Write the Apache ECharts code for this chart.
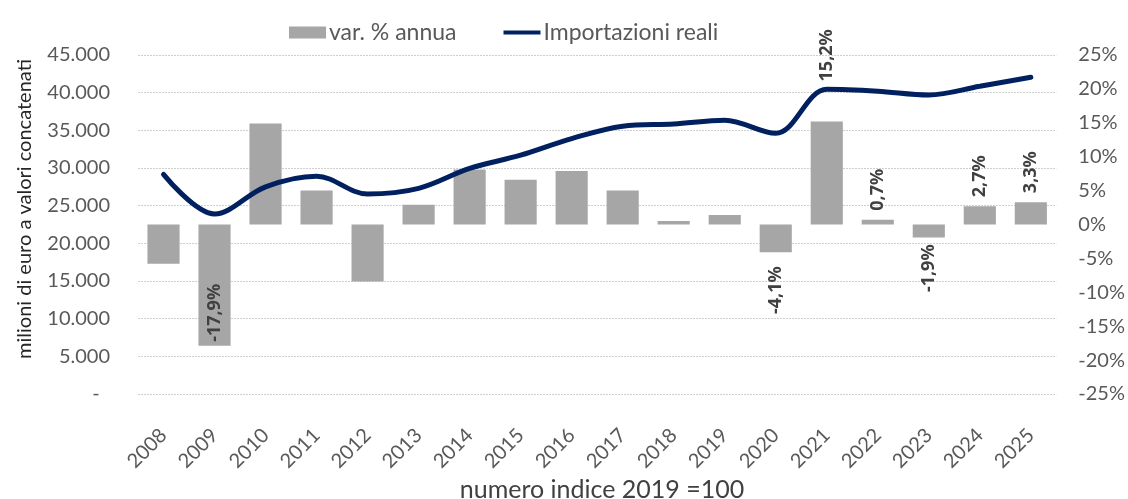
<!DOCTYPE html>
<html>
<head>
<meta charset="utf-8">
<script src="https://cdn.jsdelivr.net/npm/echarts@6/dist/echarts.min.js"></script>
<style>
html,body{margin:0;padding:0;background:#fff;}
#chart{width:1128px;height:499px;}
</style>
</head>
<body>
<div id="chart"></div>
<script>
const years = ['2008','2009','2010','2011','2012','2013','2014','2015','2016','2017','2018','2019','2020','2021','2022','2023','2024','2025'];
const importazioni = [29150, 23900, 27500, 28900, 26550, 27300, 29950, 31700, 33900, 35550, 35850, 36350, 34600, 40450, 40200, 39700, 40850, 42050];
const varPct = [-5.8, -17.9, 14.9, 5.0, -8.4, 2.9, 8.1, 6.6, 7.9, 5.0, 0.5, 1.4, -4.1, 15.2, 0.7, -1.9, 2.7, 3.3];
const labelledYears = ['2009','2020','2021','2022','2023','2024','2025'];
const seriesNames = ['var. % annua', 'Importazioni reali'];
const leftAxisTitle = 'milioni di euro a valori concatenati';
const bottomTitle = 'numero indice 2019 =100';

const FONT = 'Lato, "Open Sans", sans-serif';
const LABEL_FONT = '"Noto Sans", "Open Sans", sans-serif';
const fmtPct = v => v.toFixed(1).replace('.', ',') + '%';
const fmtThousands = v => v === 0 ? '-  ' : String(v).replace(/\B(?=(\d{3})+(?!\d))/g, '.');

const barData = varPct.map((v, i) => {
  const show = labelledYears.includes(years[i]);
  let label = { show: false };
  if (show) {
    if (v >= 0) {
      label = { show: true, position: 'top', align: 'left', verticalAlign: 'middle', distance: v > 10 ? 40 : 9 };
    } else if (v < -10) {
      label = { show: true, position: 'insideBottom', align: 'left', verticalAlign: 'middle', distance: 4 };
    } else {
      label = { show: true, position: 'bottom', align: 'right', verticalAlign: 'middle', distance: v < -3 ? 14 : 7 };
    }
  }
  return { value: v, label };
});

const chart = echarts.init(document.getElementById('chart'), null, { renderer: 'canvas' });
chart.setOption({
  animation: false,
  backgroundColor: '#ffffff',
  textStyle: { fontFamily: FONT },
  legend: {
    left: 289, top: 21, padding: 0,
    itemWidth: 37, itemHeight: 12, itemGap: 47,
    textStyle: { fontFamily: FONT, fontSize: 23, color: '#595959', padding: [0,0,0,-2] },
    data: [
      { name: seriesNames[0], icon: 'rect' },
      { name: seriesNames[1], icon: 'path://M0,0 L42,0 L42,4.5 L0,4.5 Z' }
    ]
  },
  grid: { left: 138, right: 68, top: 55, bottom: 105 },
  xAxis: {
    type: 'category',
    data: years,
    axisLine: { show: false },
    axisTick: { show: false },
    axisLabel: { rotate: 45, margin: 38, fontSize: 20, color: '#595959', fontFamily: FONT, interval: 0 }
  },
  yAxis: [
    {
      type: 'value', min: 0, max: 45000, interval: 5000,
      axisLine: { show: false }, axisTick: { show: false },
      splitLine: { show: true, lineStyle: { color: '#cfcfcf', type: [2, 1], width: 1 } },
      axisLabel: { formatter: fmtThousands, fontSize: 20, color: '#595959', margin: 28, fontFamily: FONT }
    },
    {
      type: 'value', min: -25, max: 25, interval: 5,
      axisLine: { show: false }, axisTick: { show: false },
      splitLine: { show: false },
      axisLabel: { formatter: v => v + '%', fontSize: 20, color: '#595959', margin: 22, fontFamily: FONT }
    }
  ],
  series: [
    {
      name: seriesNames[0],
      type: 'bar',
      yAxisIndex: 1,
      data: barData,
      barCategoryGap: '37%',
      itemStyle: { color: '#a6a6a6' },
      label: {
        rotate: 90,
        formatter: p => fmtPct(p.value),
        fontSize: 18, fontWeight: 'bold', color: '#404040', fontFamily: LABEL_FONT
      },
      z: 2
    },
    {
      name: seriesNames[1],
      type: 'line',
      yAxisIndex: 0,
      data: importazioni,
      smooth: 0.35,
      symbol: 'none',
      lineStyle: { color: '#002060', width: 5, cap: 'round' },
      itemStyle: { color: '#002060' },
      z: 3
    }
  ],
  graphic: [
    {
      type: 'text', x: 25, y: 209, rotation: Math.PI / 2,
      style: { text: leftAxisTitle, font: '20px ' + FONT, fill: '#262626', align: 'center', verticalAlign: 'middle' }
    },
    {
      type: 'text', x: 602, y: 490,
      style: { text: bottomTitle, font: '25px ' + FONT, fill: '#404040', align: 'center', verticalAlign: 'middle' }
    }
  ]
});
</script>
</body>
</html>
